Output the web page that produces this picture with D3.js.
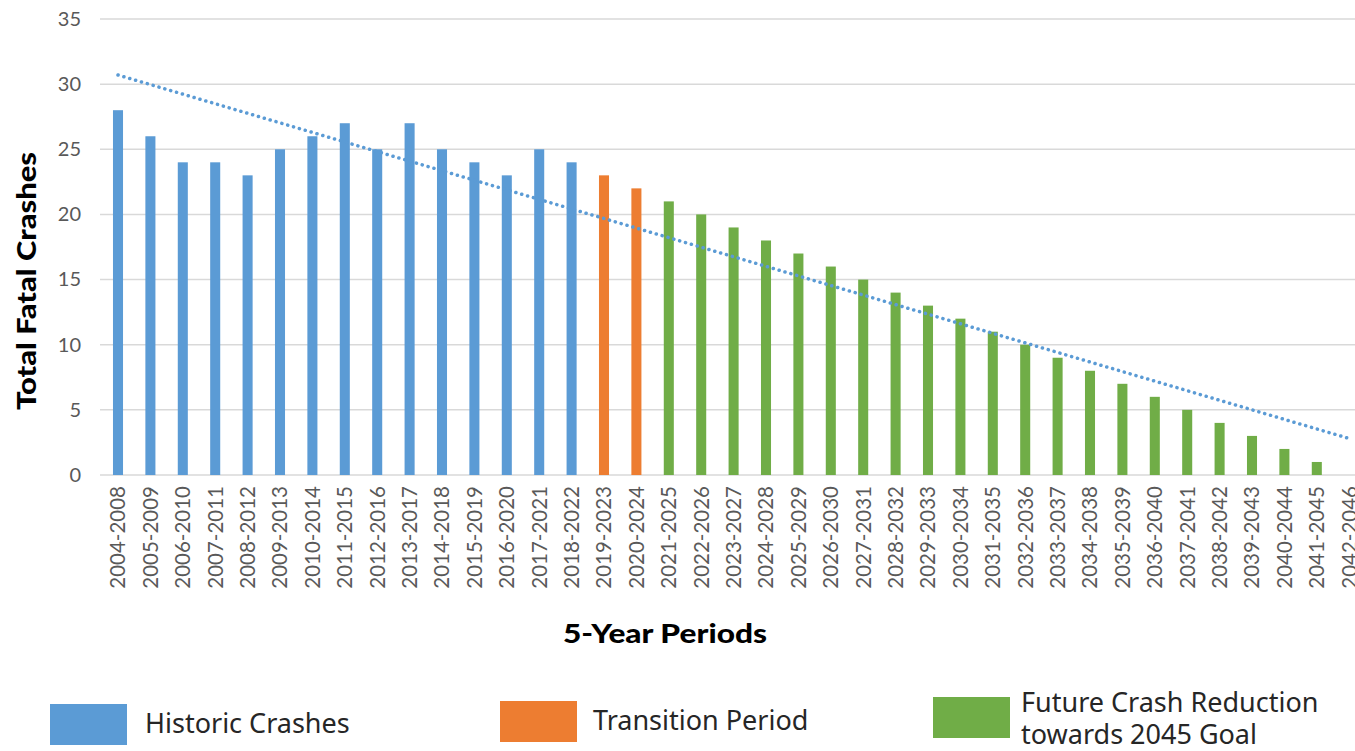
<!DOCTYPE html>
<html>
<head>
<meta charset="utf-8">
<script src="https://cdn.jsdelivr.net/npm/d3@7"></script>
<style>
  body { margin: 0; background: #fff; }
  .tick text { fill: #595959; font-family: Lato, sans-serif; }
</style>
</head>
<body>
<svg id="chart" width="1355" height="751"></svg>
<script>
// 5-year periods
var periods = [
  "2004-2008","2005-2009","2006-2010","2007-2011","2008-2012","2009-2013","2010-2014",
  "2011-2015","2012-2016","2013-2017","2014-2018","2015-2019","2016-2020","2017-2021",
  "2018-2022","2019-2023","2020-2024","2021-2025","2022-2026","2023-2027","2024-2028",
  "2025-2029","2026-2030","2027-2031","2028-2032","2029-2033","2030-2034","2031-2035",
  "2032-2036","2033-2037","2034-2038","2035-2039","2036-2040","2037-2041","2038-2042",
  "2039-2043","2040-2044","2041-2045","2042-2046"
];
var crashes = [
  28, 26, 24, 24, 23, 25, 26, 27, 25, 27, 25, 24, 23, 25, 24,
  23, 22,
  21, 20, 19, 18, 17, 16, 15, 14, 13, 12, 11, 10, 9, 8, 7, 6, 5, 4, 3, 2, 1,
  0
];
// which group each period belongs to
var groups = [
  "hist","hist","hist","hist","hist","hist","hist","hist","hist","hist","hist","hist","hist","hist","hist",
  "trans","trans",
  "fut","fut","fut","fut","fut","fut","fut","fut","fut","fut","fut","fut","fut","fut","fut","fut","fut","fut","fut","fut","fut",
  "fut"
];
var yTicks = [0, 5, 10, 15, 20, 25, 30, 35];
// dotted trendline, read at the first and last period
var trendStart = 30.7;
var trendEnd = 2.8;

var legendKeys = ["hist", "trans", "fut"];
var legendLabels = [["Historic Crashes"], ["Transition Period"], ["Future Crash Reduction", "towards 2045 Goal"]];
var colors = { hist: "#5b9bd5", trans: "#ed7d31", fut: "#70ad47" };

var svg = d3.select("#chart");

var x = d3.scaleBand()
    .domain(periods)
    .range([101.8, 1365.4])
    .paddingInner(0.69)
    .paddingOuter(0.345);

var y = d3.scaleLinear()
    .domain([0, 35])
    .range([475, 19]);

// gridlines
svg.append("g")
  .selectAll("line")
  .data(yTicks)
  .enter().append("line")
    .attr("x1", 100)
    .attr("x2", 1355)
    .attr("y1", function(d) { return y(d); })
    .attr("y2", function(d) { return y(d); })
    .attr("stroke", "#d9d9d9")
    .attr("stroke-width", 1.5);

// y axis labels
var yAxis = svg.append("g")
    .attr("transform", "translate(81,0)")
    .call(d3.axisLeft(y).tickValues(yTicks).tickSize(0).tickPadding(0));
yAxis.select(".domain").remove();
yAxis.selectAll("text").style("font-size", "20px");

// x axis labels
var xAxis = svg.append("g")
    .attr("transform", "translate(0,475)")
    .call(d3.axisBottom(x).tickSize(0));
xAxis.select(".domain").remove();
xAxis.selectAll("text")
    .style("font-size", "20.5px")
    .attr("text-anchor", "end")
    .attr("transform", "rotate(-90)")
    .attr("x", -11)
    .attr("y", 0)
    .attr("dy", "0.36em");

// bars
svg.append("g")
  .selectAll("rect")
  .data(crashes)
  .enter().append("rect")
    .attr("x", function(d, i) { return x(periods[i]); })
    .attr("y", function(d) { return y(d); })
    .attr("width", x.bandwidth())
    .attr("height", function(d) { return y(0) - y(d); })
    .attr("fill", function(d, i) { return colors[groups[i]]; });

// trendline
var trend = [
  { p: periods[0], v: trendStart },
  { p: periods[periods.length - 1], v: trendEnd }
];
svg.append("path")
    .datum(trend)
    .attr("fill", "none")
    .attr("stroke", "#5b9bd5")
    .attr("stroke-width", 3.5)
    .attr("stroke-linecap", "round")
    .attr("stroke-dasharray", "0.1,6")
    .attr("d", d3.line()
      .x(function(d) { return x(d.p) + x.bandwidth() / 2; })
      .y(function(d) { return y(d.v); }));

// axis titles
svg.append("text")
    .attr("transform", "translate(36,281) rotate(-90)")
    .attr("text-anchor", "middle")
    .attr("textLength", 258)
    .attr("lengthAdjust", "spacingAndGlyphs")
    .style("font-family", "Lato, sans-serif")
    .style("font-weight", "900")
    .style("font-size", "26px")
    .text("Total Fatal Crashes");

svg.append("text")
    .attr("x", 665)
    .attr("y", 643)
    .attr("text-anchor", "middle")
    .attr("textLength", 204)
    .attr("lengthAdjust", "spacingAndGlyphs")
    .style("font-family", "Lato, sans-serif")
    .style("font-weight", "900")
    .style("font-size", "26px")
    .text("5-Year Periods");

// legend
var legendX = [50, 500, 933];
var legendY = [704, 701, 697];
var legendTextX = [95, 93, 88];
var legend = svg.append("g")
  .selectAll("g")
  .data(legendKeys)
  .enter().append("g")
    .attr("transform", function(d, i) { return "translate(" + legendX[i] + "," + legendY[i] + ")"; });

legend.append("rect")
    .attr("width", 77)
    .attr("height", 41)
    .attr("fill", function(d) { return colors[d]; });

legend.append("text")
    .attr("y", function(d, i) { return legendLabels[i].length > 1 ? 15 : 29; })
    .style("font-family", "'Noto Sans', sans-serif")
    .style("font-size", "27px")
    .style("fill", "#262626")
  .selectAll("tspan")
  .data(function(d, i) { return legendLabels[i].map(function(t) { return { t: t, i: i }; }); })
  .enter().append("tspan")
    .attr("x", function(d) { return legendTextX[d.i]; })
    .attr("dy", function(d, j) { return j === 0 ? 0 : 32; })
    .text(function(d) { return d.t; });
</script>
</body>
</html>
